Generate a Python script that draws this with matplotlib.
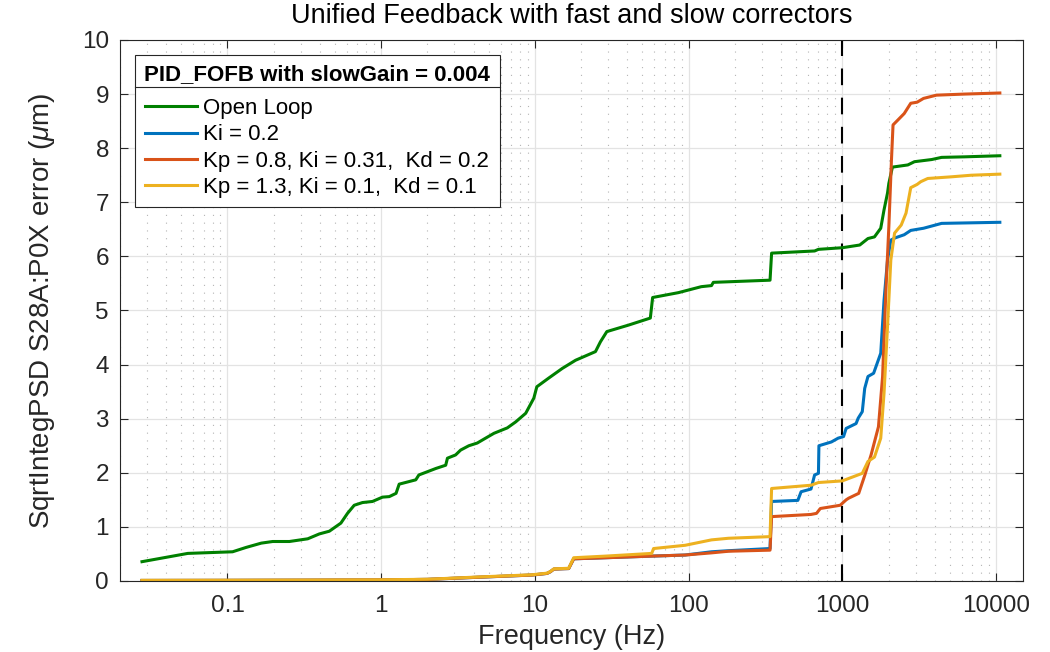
import matplotlib
matplotlib.use('Agg')
import matplotlib.pyplot as plt
from matplotlib.lines import Line2D

plt.rcParams['font.family'] = ['Liberation Sans', 'DejaVu Sans']
plt.rcParams['mathtext.fontset'] = 'custom'
plt.rcParams['mathtext.it'] = 'Liberation Sans:italic'
plt.rcParams['mathtext.rm'] = 'Liberation Sans'

# Open loop
f_ol = [0.0278, 0.0552, 0.108, 0.132, 0.166, 0.197, 0.253, 0.333, 0.396, 0.46,
        0.547, 0.604, 0.668, 0.756, 0.878, 1.02, 1.13, 1.25, 1.31, 1.68,
        1.76, 2.0, 2.27, 2.63, 2.70, 3.05, 3.29, 3.72, 4.22, 4.78,
        5.42, 6.62, 7.5, 8.72, 9.85, 10.3, 12.3, 15.1, 18.4, 24.8,
        26.7, 29.4, 40.7, 56.4, 58.4, 86, 121, 141, 145, 339,
        347, 661, 700, 1000, 1300, 1470, 1620, 1780, 1870, 1970,
        2010, 2120, 2670, 2950, 3820, 4430, 6260, 10600]
v_ol = [0.357, 0.51, 0.54, 0.62, 0.70, 0.73, 0.73, 0.78, 0.87, 0.92,
        1.07, 1.25, 1.40, 1.45, 1.47, 1.55, 1.56, 1.62, 1.79, 1.87,
        1.96, 2.02, 2.08, 2.14, 2.27, 2.33, 2.42, 2.50, 2.55, 2.64,
        2.73, 2.83, 2.94, 3.10, 3.38, 3.59, 3.75, 3.93, 4.08, 4.24,
        4.42, 4.61, 4.73, 4.86, 5.24, 5.33, 5.44, 5.46, 5.52, 5.56,
        6.06, 6.10, 6.13, 6.16, 6.21, 6.33, 6.36, 6.52, 6.86, 7.17,
        7.35, 7.65, 7.69, 7.75, 7.79, 7.83, 7.84, 7.86]

# Ki = 0.2
f_ki = [0.0278, 0.1, 0.3, 1.0, 2.0, 4.33, 9.6, 12.0, 12.6, 13.3,
        16.6, 17.9, 28.8, 57.6, 95, 141, 182, 339, 347, 514,
        540, 626, 661, 700, 705, 850, 940, 1020, 1060, 1230,
        1270, 1350, 1400, 1470, 1600, 1780, 1870, 1970, 2070, 2200,
        2530, 2790, 3380, 4430, 10600]
v_ki = [0.01, 0.012, 0.015, 0.02, 0.03, 0.07, 0.11, 0.14, 0.17, 0.22,
        0.23, 0.41, 0.43, 0.46, 0.48, 0.54, 0.56, 0.60, 1.47, 1.49,
        1.65, 1.70, 1.96, 1.99, 2.50, 2.57, 2.64, 2.67, 2.82, 2.91,
        3.01, 3.13, 3.56, 3.78, 3.84, 4.21, 5.19, 5.93, 6.30, 6.34,
        6.40, 6.48, 6.52, 6.61, 6.63]

# Kp = 0.8, Ki = 0.31, Kd = 0.2
f_pid1 = [0.0278, 0.1, 0.3, 1.0, 2.0, 4.33, 9.6, 12.0, 12.6, 13.3,
          16.6, 17.9, 28.8, 57.6, 95, 141, 182, 339, 347, 626,
          680, 720, 970, 1060, 1100, 1280, 1400, 1540, 1720, 1830,
          1920, 2010, 2090, 2140, 2300, 2530, 2790, 3070, 3380, 4100,
          6260, 10600]
v_pid1 = [0.01, 0.012, 0.015, 0.02, 0.03, 0.07, 0.11, 0.14, 0.17, 0.22,
          0.23, 0.41, 0.43, 0.46, 0.48, 0.52, 0.55, 0.57, 1.19, 1.23,
          1.25, 1.34, 1.40, 1.50, 1.53, 1.62, 1.95, 2.33, 2.85, 3.78,
          5.32, 6.55, 7.78, 8.43, 8.52, 8.64, 8.83, 8.85, 8.92, 8.98,
          9.00, 9.02]

# Kp = 1.3, Ki = 0.1, Kd = 0.1
f_pid2 = [0.0278, 0.1, 0.3, 1.0, 2.0, 4.33, 9.6, 12.0, 12.6, 13.3,
          16.6, 17.9, 28.8, 57.6, 59.2, 95, 141, 182, 339, 347,
          626, 700, 1000, 1350, 1470, 1620, 1780, 1870, 1970, 2070,
          2190, 2420, 2600, 2790, 3070, 3240, 3600, 5100, 6900, 10600]
v_pid2 = [0.012, 0.014, 0.017, 0.022, 0.032, 0.075, 0.115, 0.145, 0.175, 0.225,
          0.235, 0.43, 0.46, 0.51, 0.60, 0.66, 0.76, 0.79, 0.82, 1.71,
          1.77, 1.82, 1.85, 1.99, 2.21, 2.29, 2.64, 3.47, 4.70, 5.93,
          6.43, 6.58, 6.80, 7.27, 7.33, 7.38, 7.44, 7.47, 7.50, 7.52]

labels = ['Open Loop', 'Ki = 0.2', 'Kp = 0.8, Ki = 0.31,  Kd = 0.2',
          'Kp = 1.3, Ki = 0.1,  Kd = 0.1']
colors = ['#008000', '#0072BD', '#D95319', '#EDB120']
xticks = [0.1, 1, 10, 100, 1000, 10000]
xticklabels = ['0.1', '1', '10', '100', '1000', '10000']

fig = plt.figure(figsize=(10.5, 6.52), dpi=100)
ax = fig.add_axes([0.1143, 0.1089, 0.860, 0.8298])

series = [(f_ol, v_ol), (f_ki, v_ki), (f_pid1, v_pid1), (f_pid2, v_pid2)]
for (f, v), lab, c in zip(series, labels, colors):
    ax.plot(f, v, color=c, lw=2.2, label=lab)

ax.axvline(1000, color='black', lw=1.5, linestyle=(0, (8, 6)), zorder=1.5)

ax.set_xscale('log')
ax.set_xlim(0.02, 15000)
ax.set_ylim(0, 10)
ax.set_xticks(xticks)
ax.set_xticklabels(xticklabels)
ax.set_yticks(range(0, 11))

ax.grid(True, which='major', color='#e3e3e3', lw=0.9)
ax.xaxis.grid(True, which='minor', color='#b4b4b4', lw=0.8, linestyle=(0, (1, 6)))
ax.set_axisbelow(True)

ax.tick_params(which='major', direction='in', length=6, width=0.8,
               top=True, right=True, labelsize=17.5, colors='#262626')
ax.tick_params(axis='x', which='major', pad=10)
ax.tick_params(axis='y', which='major', pad=8)
ax.tick_params(which='minor', length=0, top=True, right=True)
for s in ax.spines.values():
    s.set_color('#262626')
    s.set_linewidth(0.8)

ax.set_title('Unified Feedback with fast and slow correctors', fontsize=19.5,
             color='black', pad=12)
ax.set_xlabel('Frequency (Hz)', fontsize=19.5, color='#262626', labelpad=5)
ax.set_ylabel('SqrtIntegPSD S28A:P0X error ($\\mu$m)', fontsize=20,
              color='#262626', labelpad=18)

leg = ax.legend(loc='upper left', bbox_to_anchor=(0.0166, 0.972), borderaxespad=0,
                fontsize=16, title='PID_FOFB with slowGain = 0.004',
                title_fontproperties={'weight': 'bold', 'size': 16},
                fancybox=False, framealpha=1, edgecolor='#262626',
                handlelength=2.35, handletextpad=0.27, borderpad=0.42,
                labelspacing=0.24)
leg.get_frame().set_linewidth(0.8)
leg._legend_box.sep = 9  # gap between title and entries (points)

# separator line under legend title
fig.canvas.draw()
lbb = leg.get_window_extent()
tbb = leg.get_title().get_window_extent()
ysep = tbb.y0 - 2
inv = fig.transFigure.inverted()
x0, y0 = inv.transform((lbb.x0, ysep))
x1, _ = inv.transform((lbb.x1, ysep))
fig.add_artist(Line2D([x0, x1], [y0, y0], color='#262626', lw=0.8,
                      transform=fig.transFigure, zorder=10))

fig.savefig('out.png', dpi=100)
